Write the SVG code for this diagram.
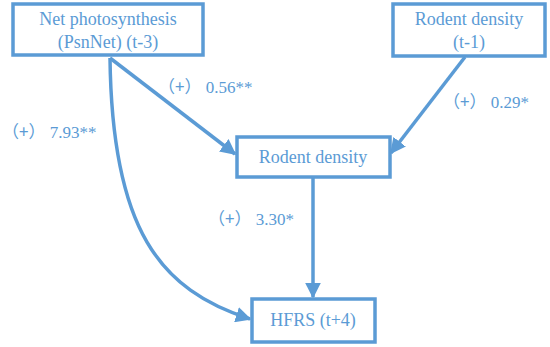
<svg xmlns="http://www.w3.org/2000/svg" width="550" height="347" viewBox="0 0 550 347">
<defs>
<style>
.box{fill:#fff;stroke:#5B9BD5;stroke-width:3.5}
.c{fill:none;stroke:#5B9BD5;stroke-width:3.5}
text{fill:#5B9BD5;font-family:'Liberation Serif',serif !important;font-size:18px}
text.t{text-anchor:middle}
text.l{font-size:17px}
tspan.p{font-family:'Noto Sans CJK SC','Liberation Serif',serif !important}
</style>
<marker id="ah" viewBox="0 0 10 10" refX="9" refY="5" markerWidth="4.5" markerHeight="4.5" orient="auto" markerUnits="strokeWidth">
<path d="M0,0 L10,5 L0,10 z" fill="#5B9BD5"/>
</marker>
</defs>
<rect width="550" height="347" fill="#fff"/>
<g id="connectors">
<path class="c" d="M110,58 L235,154" marker-end="url(#ah)"/>
<path class="c" d="M465,57 L391,153" marker-end="url(#ah)"/>
<path class="c" d="M313,177 L313,297" marker-end="url(#ah)"/>
<path class="c" d="M110,58 C112,230 160,290 250,319" marker-end="url(#ah)"/>
</g>
<g id="n1"><rect class="box" x="13" y="4" width="190" height="51"/>
<text class="t" x="108" y="25" style="font-family:'Liberation Serif',serif !important">Net photosynthesis</text>
<text class="t" x="108" y="48" style="font-family:'Liberation Serif',serif !important">(PsnNet) (t-3)</text></g>
<g id="n2"><rect class="box" x="393" y="4" width="152" height="52"/>
<text class="t" x="469" y="25" style="font-family:'Liberation Serif',serif !important">Rodent density</text>
<text class="t" x="469" y="48" style="font-family:'Liberation Serif',serif !important">(t-1)</text></g>
<g id="n3"><rect class="box" x="237" y="137" width="153" height="40"/>
<text class="t" x="313" y="163" style="font-family:'Liberation Serif',serif !important">Rodent density</text></g>
<g id="n4"><rect class="box" x="252" y="299" width="123" height="43"/>
<text class="t" x="313" y="326" style="font-family:'Liberation Serif',serif !important">HFRS (t+4)</text></g>
<g id="labels">
<text class="l" x="2" y="138" style="font-family:'Liberation Serif',serif !important"><tspan class="p">（+）</tspan> 7.93**</text>
<text class="l" x="158" y="93" style="font-family:'Liberation Serif',serif !important"><tspan class="p">（+）</tspan> 0.56**</text>
<text class="l" x="443" y="108" style="font-family:'Liberation Serif',serif !important"><tspan class="p">（+）</tspan> 0.29*</text>
<text class="l" x="208" y="225" style="font-family:'Liberation Serif',serif !important"><tspan class="p">（+）</tspan> 3.30*</text>
</g>
</svg>
